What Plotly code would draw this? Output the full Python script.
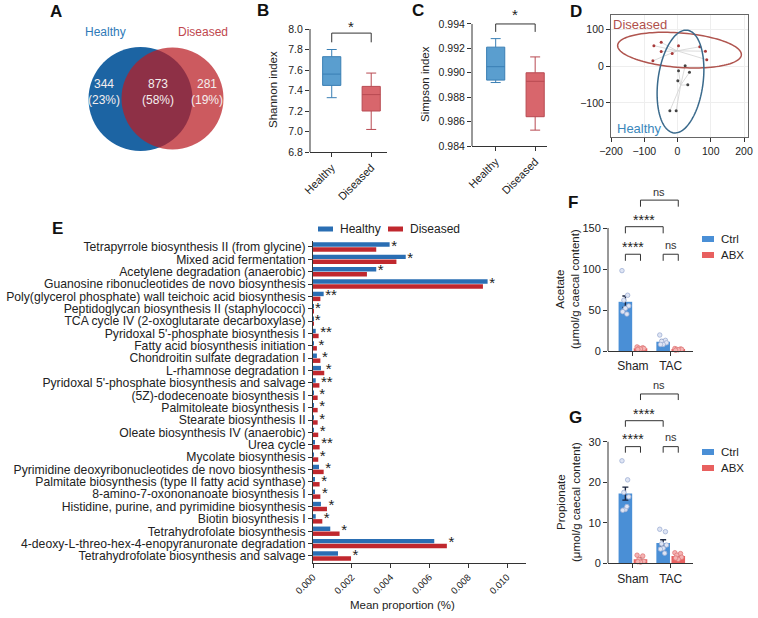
import numpy as np
import plotly.graph_objects as go

W, H = 758, 618
FONT = "Arial, Liberation Sans, sans-serif"
TXT = "#222222"

# ---------------- data ----------------
venn_names = ["Healthy", "Diseased"]
venn_counts = [344, 873, 281]          # healthy only, shared, diseased only

box_groups = ["Healthy", "Diseased"]
shannon_lower = [7.33, 7.02]
shannon_q1 = [7.45, 7.20]
shannon_median = [7.56, 7.36]
shannon_q3 = [7.73, 7.44]
shannon_upper = [7.80, 7.57]

simpson_lower = [0.9892, 0.9853]
simpson_q1 = [0.9894, 0.9864]
simpson_median = [0.9905, 0.9893]
simpson_q3 = [0.9921, 0.9900]
simpson_upper = [0.9928, 0.9913]

pcoa_dis_x = [-71, -49, -49, 3, -16, -74, 67, 84, 88]
pcoa_dis_y = [55, 64, 39, 55, 34, 14, 52, 40, 17]
pcoa_hea_x = [23, 3, 36, 1, 31, -23, -4]
pcoa_hea_y = [1, -13, -17, -40, -51, -121, -121]
ellipse_dis = dict(cx=6, cy=43, ax=186, ay=-11, bx=-4, by=47)
ellipse_hea = dict(cx=9, cy=-42, ax=18, ay=139, bx=68, by=-3)

pathways = [
    "Tetrapyrrole biosynthesis II (from glycine)",
    "Mixed acid fermentation",
    "Acetylene degradation (anaerobic)",
    "Guanosine ribonucleotides de novo biosynthesis",
    "Poly(glycerol phosphate) wall teichoic acid biosynthesis",
    "Peptidoglycan biosynthesis II (staphylococci)",
    "TCA cycle IV (2-oxoglutarate decarboxylase)",
    "Pyridoxal 5'-phosphate biosynthesis I",
    "Fatty acid biosynthesis initiation",
    "Chondroitin sulfate degradation I",
    "L-rhamnose degradation I",
    "Pyridoxal 5'-phosphate biosynthesis and salvage",
    "(5Z)-dodecenoate biosynthesis I",
    "Palmitoleate biosynthesis I",
    "Stearate biosynthesis II",
    "Oleate biosynthesis IV (anaerobic)",
    "Urea cycle",
    "Mycolate biosynthesis",
    "Pyrimidine deoxyribonucleotides de novo biosynthesis",
    "Palmitate biosynthesis (type II fatty acid synthase)",
    "8-amino-7-oxononanoate biosynthesis I",
    "Histidine, purine, and pyrimidine biosynthesis",
    "Biotin biosynthesis I",
    "Tetrahydrofolate biosynthesis",
    "4-deoxy-L-threo-hex-4-enopyranuronate degradation",
    "Tetrahydrofolate biosynthesis and salvage",
]
pathway_series = ["Healthy", "Diseased"]
healthy_prop = [0.00395, 0.00478, 0.00326, 0.00900, 0.00055, 0.00002, 0.00001,
                0.00014, 0.00003, 0.00020, 0.00041, 0.00014, 0.00002, 0.00002,
                0.00002, 0.00002, 0.00010, 0.00002, 0.00031, 0.00007, 0.00007,
                0.00041, 0.00014, 0.00089, 0.00625, 0.00129]
diseased_prop = [0.00326, 0.00430, 0.00278, 0.00876, 0.00038, 0.00002, 0.00001,
                 0.00029, 0.00020, 0.00038, 0.00058, 0.00033, 0.00024, 0.00024,
                 0.00024, 0.00027, 0.00034, 0.00027, 0.00055, 0.00034, 0.00038,
                 0.00072, 0.00048, 0.00137, 0.00690, 0.00196]
pathway_sig = ["*", "*", "*", "*", "**", "*", "*", "**", "*", "*", "*", "**", "*",
               "*", "*", "*", "**", "*", "*", "*", "*", "*", "*", "*", "*", "*"]

scfa_groups = ["Sham", "TAC"]
scfa_series = ["Ctrl", "ABX"]
acetate_ctrl_mean = [60.0, 11.3]
acetate_ctrl_sem = [7.0, 2.5]
acetate_abx_mean = [3.3, 2.0]
acetate_abx_sem = [0.6, 0.4]
acetate_ctrl_pts = [[98, 68, 62, 55, 52, 48, 45], [19.5, 13, 12, 10, 8, 8]]
acetate_abx_pts = [[5, 4, 3.5, 3, 2.5, 2], [3, 2.5, 2, 2, 1.5, 1]]

propionate_ctrl_mean = [17.2, 5.0]
propionate_ctrl_sem = [1.6, 0.8]
propionate_abx_mean = [1.0, 1.8]
propionate_abx_sem = [0.4, 0.4]
propionate_ctrl_pts = [[25.3, 20.6, 17.5, 16.4, 13.3, 13.1, 14.0], [8.4, 7.8, 4.8, 4.5, 3.7, 3.5, 2.5]]
propionate_abx_pts = [[2.0, 1.8, 1.0, 0.5, 0.3, 0.4], [2.6, 2.4, 2.0, 1.5, 1.0, 1.3]]

# ---------------- styles ----------------
C_BLUE_BOX, C_BLUE_LINE = "#5a9ecf", "#3a7fb4"
C_RED_BOX, C_RED_LINE = "#d8666c", "#b84a52"
C_E_H, C_E_D = "#2a6eb3", "#c0282e"
C_CTRL, C_ABX = "#4a8fd6", "#e8605f"
JITTER = [-0.09, 0.06, -0.04, 0.09, 0.0, -0.07, 0.04]


def xd(a, b):
    return [a / W, b / W]


def yd(top, bottom):
    return [1 - bottom / H, 1 - top / H]


def paper(x, y):
    return x / W, 1 - y / H


fig = go.Figure()
shapes, annos = [], []


def ptext(px, py, text, size, color=TXT, angle=0, xanchor="center"):
    x, y = paper(px, py)
    annos.append(dict(xref="paper", yref="paper", x=x, y=y, text=text, textangle=angle,
                      xanchor=xanchor, yanchor="middle", showarrow=False,
                      font=dict(size=size, color=color)))


# ---------------- A: Venn ----------------
shapes.append(dict(type="circle", xref="x", yref="y", x0=28.5, x1=132.5, y0=19, y1=123,
                   fillcolor="#1c64a3", line=dict(width=0), layer="below"))
shapes.append(dict(type="circle", xref="x", yref="y", x0=61.5, x1=163.5, y0=20.5, y1=122.5,
                   fillcolor="rgb(185,29,36)", opacity=0.73, line=dict(width=0), layer="below"))
tot = sum(venn_counts)
venn_txt = [f"{c}<br>({round(100 * c / tot)}%)" for c in venn_counts]
fig.add_trace(go.Scatter(x=[44, 98, 147], y=[77, 77, 77], mode="text", text=venn_txt,
                         textfont=dict(color="#f4eeee", size=12, family=FONT),
                         showlegend=False, xaxis="x", yaxis="y", hoverinfo="skip"))
annos.append(dict(xref="x", yref="y", x=45, y=138, text=venn_names[0], showarrow=False,
                  xanchor="center", yanchor="middle", font=dict(color="#2f7ab8", size=12)))
annos.append(dict(xref="x", yref="y", x=143, y=138, text=venn_names[1], showarrow=False,
                  xanchor="center", yanchor="middle", font=dict(color="#c0474e", size=12)))


# ---------------- B & C: boxes ----------------
def add_boxes(lo, q1, med, q3, up, xa, ya):
    for i, (fc, lc) in enumerate([(C_BLUE_BOX, C_BLUE_LINE), (C_RED_BOX, C_RED_LINE)]):
        fig.add_trace(go.Box(x=[i], lowerfence=[lo[i]], q1=[q1[i]], median=[med[i]], q3=[q3[i]],
                             upperfence=[up[i]], width=0.46, whiskerwidth=0.55, fillcolor=fc,
                             line=dict(color=lc, width=1), boxpoints=False, showlegend=False,
                             name=box_groups[i], xaxis=xa, yaxis=ya, hoverinfo="skip"))


add_boxes(shannon_lower, shannon_q1, shannon_median, shannon_q3, shannon_upper, "x2", "y2")
add_boxes(simpson_lower, simpson_q1, simpson_median, simpson_q3, simpson_upper, "x3", "y3")


def bracket(xa, ya, x0, x1, ytop, yend):
    shapes.append(dict(type="path", xref=xa, yref=ya,
                       path=f"M {x0},{yend} L {x0},{ytop} L {x1},{ytop} L {x1},{yend}",
                       line=dict(color="#333333", width=1)))


def vline(xa, ya, y0, y1):
    shapes.append(dict(type="line", xref=xa + " domain", yref=ya, x0=0, x1=0, y0=y0, y1=y1,
                       line=dict(color="#333333", width=1)))


def dtext(xa, ya, x, y, text, size, color=TXT):
    annos.append(dict(xref=xa, yref=ya, x=x, y=y, text=text, showarrow=False,
                      xanchor="center", yanchor="middle", font=dict(size=size, color=color)))


bracket("x2", "y2", 0, 1, 7.96, 7.87)
dtext("x2", "y2", 0.5, 8.025, "*", 15)
vline("x2", "y2", 6.8, 8.0)
bracket("x3", "y3", 0, 1, 0.9940, 0.99335)
dtext("x3", "y3", 0.5, 0.99475, "*", 15)
vline("x3", "y3", 0.984, 0.994)


# ---------------- D: PCoA ----------------
def spokes(xs, ys):
    mx, my = np.mean(xs), np.mean(ys)
    lx, ly = [], []
    for x, y in zip(xs, ys):
        lx += [mx, x, None]
        ly += [my, y, None]
    return lx, ly


for xs, ys, col in [(pcoa_dis_x, pcoa_dis_y, "#a83a3a"), (pcoa_hea_x, pcoa_hea_y, "#444444")]:
    lx, ly = spokes(xs, ys)
    fig.add_trace(go.Scatter(x=lx, y=ly, mode="lines", line=dict(color="#d2d2d2", width=0.8),
                             showlegend=False, xaxis="x4", yaxis="y4", hoverinfo="skip"))
    fig.add_trace(go.Scatter(x=xs, y=ys, mode="markers", marker=dict(color=col, size=3),
                             showlegend=False, xaxis="x4", yaxis="y4", hoverinfo="skip"))


def ellipse_path(e, n=120):
    t = np.linspace(0, 2 * np.pi, n)
    xs = e["cx"] + e["ax"] * np.cos(t) + e["bx"] * np.sin(t)
    ys = e["cy"] + e["ay"] * np.cos(t) + e["by"] * np.sin(t)
    return "M " + " L ".join(f"{x:.2f},{y:.2f}" for x, y in zip(xs, ys)) + " Z"


shapes.append(dict(type="path", xref="x4", yref="y4", path=ellipse_path(ellipse_dis),
                   line=dict(color="#b0554f", width=1.5)))
shapes.append(dict(type="path", xref="x4", yref="y4", path=ellipse_path(ellipse_hea),
                   line=dict(color="#3a6a8c", width=1.5)))
dtext("x4", "y4", -112, 111, "Diseased", 13, "#b0504c")
dtext("x4", "y4", -114, -170, "Healthy", 13, "#3a87bb")

# ---------------- E: pathway bars ----------------
for vals, nm, col in [(healthy_prop, pathway_series[0], C_E_H), (diseased_prop, pathway_series[1], C_E_D)]:
    fig.add_trace(go.Bar(y=pathways, x=vals, orientation="h", name=nm, showlegend=False,
                         marker=dict(color=col, line=dict(width=0)), xaxis="x5", yaxis="y5"))
fig.add_trace(go.Scatter(y=pathways, x=np.maximum(healthy_prop, diseased_prop) + 0.00008,
                         mode="text", text=pathway_sig, textposition="middle right",
                         textfont=dict(size=15, color=TXT), cliponaxis=False,
                         showlegend=False, xaxis="x5", yaxis="y5", hoverinfo="skip"))


def legend_item(x0, yc, w, h, color, label, size):
    shapes.append(dict(type="rect", xref="paper", yref="paper", x0=x0 / W, x1=(x0 + w) / W,
                       y0=1 - (yc + h / 2) / H, y1=1 - (yc - h / 2) / H,
                       fillcolor=color, line=dict(width=0)))
    ptext(x0 + w + 5, yc, label, size, xanchor="left")


legend_item(318, 229, 15, 5, C_E_H, pathway_series[0], 12)
legend_item(388, 229, 15, 5, C_E_D, pathway_series[1], 12)


# ---------------- F & G: SCFA bars ----------------
def scfa(xa, ya, cm, cs, am, as_, cp, ap):
    fig.add_trace(go.Bar(x=[0, 1], y=cm, name=scfa_series[0], showlegend=False,
                         marker=dict(color=C_CTRL, line=dict(width=0)),
                         error_y=dict(type="data", array=cs, color="#1b2640", thickness=1.4, width=3),
                         xaxis=xa, yaxis=ya))
    fig.add_trace(go.Bar(x=[0, 1], y=am, name=scfa_series[1], showlegend=False,
                         marker=dict(color=C_ABX, line=dict(width=0)),
                         error_y=dict(type="data", array=as_, color="#1b2640", thickness=1.4, width=3),
                         xaxis=xa, yaxis=ya))
    for pts, off, fc, lc in [(cp, -0.2, "#dfe5f4", "#9fb0d4"), (ap, 0.2, "#f5b3b3", "#e07b7b")]:
        px, py = [], []
        for g, vals in enumerate(pts):
            for k, v in enumerate(vals):
                px.append(g + off + JITTER[k % len(JITTER)])
                py.append(v)
        fig.add_trace(go.Scatter(x=px, y=py, mode="markers",
                                 marker=dict(size=4.5, color=fc, line=dict(color=lc, width=0.8)),
                                 cliponaxis=False, showlegend=False, xaxis=xa, yaxis=ya,
                                 hoverinfo="skip"))


scfa("x6", "y6", acetate_ctrl_mean, acetate_ctrl_sem, acetate_abx_mean,
     acetate_abx_sem, acetate_ctrl_pts, acetate_abx_pts)
scfa("x7", "y7", propionate_ctrl_mean, propionate_ctrl_sem, propionate_abx_mean,
     propionate_abx_sem, propionate_ctrl_pts, propionate_abx_pts)

legend_item(702, 239, 12, 6, C_CTRL, scfa_series[0], 11.5)
legend_item(702, 255, 12, 6, C_ABX, scfa_series[1], 11.5)
legend_item(702, 452, 12, 6, C_CTRL, scfa_series[0], 11.5)
legend_item(702, 468, 12, 6, C_ABX, scfa_series[1], 11.5)

for xa, ya, lv, mv, tv in [("x6", "y6", (118, 110, 127), (151.6, 143.5, 160), (184, 176, 194)),
                           ("x7", "y7", (28.8, 27.3, 30.6), (35.2, 33.7, 36.9), (41.8, 40.3, 44.0))]:
    bracket(xa, ya, -0.2, 0.2, lv[0], lv[1])
    bracket(xa, ya, 0.8, 1.2, lv[0], lv[1])
    bracket(xa, ya, -0.2, 0.8, mv[0], mv[1])
    bracket(xa, ya, 0.2, 1.2, tv[0], tv[1])
    dtext(xa, ya, 0, lv[2], "****", 14)
    dtext(xa, ya, 1, lv[2] + (2 if xa == "x6" else 0.5), "ns", 11, "#333")
    dtext(xa, ya, 0.3, mv[2], "****", 14)
    dtext(xa, ya, 0.7, tv[2], "ns", 11, "#333")
vline("x6", "y6", 0, 150)
vline("x7", "y7", 0, 30)

# ---------------- axis titles & panel letters ----------------
ptext(273, 90, "Shannon index", 11.5, angle=-90)
ptext(425, 84, "Simpson index", 11.5, angle=-90)
ptext(568, 289, "Acetate<br>(μmol/g caecal content)", 11.5, angle=-90)
ptext(568, 502, "Propionate<br>(μmol/g caecal content)", 11.5, angle=-90)
ptext(402, 605, "Mean proportion (%)", 11.5)

for L, (px, py) in zip("ABCDEFG", [(56, 12), (263, 11), (418, 11), (576, 12), (57, 228),
                                   (573, 203), (575, 417)]):
    ptext(px, py, f"<b>{L}</b>", 17, "#111")

# ---------------- layout ----------------
ax_common = dict(showgrid=False, zeroline=False, ticks="outside", ticklen=4, tickwidth=1,
                 tickcolor="#333", linecolor="#333", linewidth=1, automargin=False,
                 tickfont=dict(size=10.5, color=TXT))

lay = dict(
    width=W, height=H, margin=dict(l=0, r=0, t=0, b=0),
    paper_bgcolor="white", plot_bgcolor="rgba(0,0,0,0)",
    font=dict(family=FONT, color=TXT),
    barmode="group", bargap=0.2, bargroupgap=0.1,
    shapes=shapes, annotations=annos, showlegend=False,
    xaxis=dict(domain=xd(60, 260), range=[0, 200], visible=False, anchor="y"),
    yaxis=dict(domain=yd(20, 170), range=[0, 150], visible=False, anchor="x"),
    xaxis2=dict(ax_common, domain=xd(310, 387), range=[-0.55, 1.4], anchor="y2", showline=True,
                tickvals=[0, 1], ticktext=box_groups, tickangle=-45, tickfont=dict(size=11)),
    yaxis2=dict(ax_common, domain=yd(20.8, 152), range=[6.8, 8.08], anchor="x2", showline=False,
                tickvals=[6.8, 7.0, 7.2, 7.4, 7.6, 7.8, 8.0], tickformat=".1f"),
    xaxis3=dict(ax_common, domain=xd(472, 547), range=[-0.6, 1.3], anchor="y3", showline=True,
                tickvals=[0, 1], ticktext=box_groups, tickangle=-45, tickfont=dict(size=11)),
    yaxis3=dict(ax_common, domain=yd(14.2, 146), range=[0.984, 0.9948], anchor="x3", showline=False,
                tickvals=[0.984, 0.986, 0.988, 0.990, 0.992, 0.994], tickformat=".3f"),
    xaxis4=dict(ax_common, domain=xd(611, 748), range=[-200, 212], anchor="y4", showline=True,
                mirror=True, linecolor="#666", tickvals=[-200, -100, 0, 100, 200],
                showgrid=True, gridcolor="#eeeeee", gridwidth=0.6),
    yaxis4=dict(ax_common, domain=yd(15, 137), range=[-192, 138], anchor="x4", showline=True,
                mirror=True, linecolor="#666", tickvals=[-100, 0, 100],
                showgrid=True, gridcolor="#eeeeee", gridwidth=0.6),
    xaxis5=dict(ax_common, domain=xd(313, 526.4), range=[0, 0.011], anchor="y5", showline=True,
                tickvals=[0, 0.002, 0.004, 0.006, 0.008, 0.010], tickformat=".3f", tickangle=-45,
                tickfont=dict(size=9.5)),
    yaxis5=dict(ax_common, domain=yd(240.8, 563), type="category", categoryorder="array",
                categoryarray=pathways, range=[25.57, -0.5], anchor="x5", showline=True,
                tickmode="array", tickvals=pathways, tickfont=dict(size=12.2, color=TXT)),
    xaxis6=dict(ax_common, domain=xd(608, 693), range=[-0.66, 1.59], anchor="y6", showline=True,
                tickvals=[0, 1], ticktext=scfa_groups, tickfont=dict(size=12)),
    yaxis6=dict(ax_common, domain=yd(187, 351), range=[0, 200], anchor="x6", showline=False,
                tickvals=[0, 50, 100, 150], tickfont=dict(size=11)),
    xaxis7=dict(ax_common, domain=xd(608, 693), range=[-0.66, 1.59], anchor="y7", showline=True,
                tickvals=[0, 1], ticktext=scfa_groups, tickfont=dict(size=12)),
    yaxis7=dict(ax_common, domain=yd(381, 563.3), range=[0, 45], anchor="x7", showline=False,
                tickvals=[0, 10, 20, 30], tickfont=dict(size=11)),
    template="none",
)
fig.update_layout(**lay)
fig.write_html("out.html", config={"displayModeBar": False},
               post_script="document.body.style.margin='0px';")
